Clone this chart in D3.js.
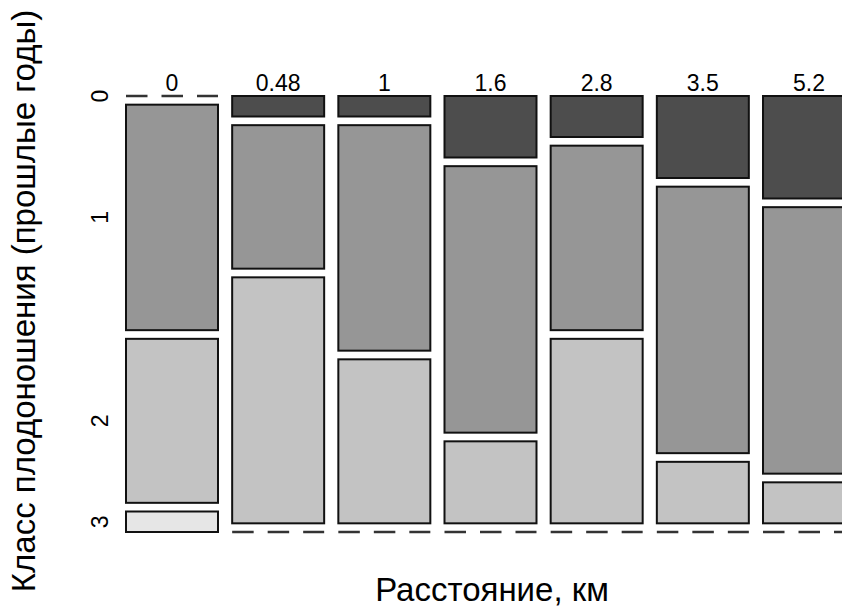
<!DOCTYPE html>
<html>
<head>
<meta charset="utf-8">
<script src="https://cdnjs.cloudflare.com/ajax/libs/d3/7.8.5/d3.min.js"></script>
<style>
  body { margin: 0; background: #fff; }
  text { font-family: "Liberation Sans", Arial, sans-serif; fill: #000; }
</style>
</head>
<body>
<div id="chart"></div>
<script>
// canvas size
const width = 842
const height = 609

// distance categories (km) and fruiting classes
const distances = ["0", "0.48", "1", "1.6", "2.8", "3.5", "5.2"]
const classes = ["0", "1", "2", "3"]

// counts per distance, one value per class 0..3
const counts0 = [0, 11, 8, 1]
const counts048 = [1, 7, 12, 0]
const counts1 = [1, 11, 8, 0]
const counts16 = [3, 13, 4, 0]
const counts28 = [2, 9, 9, 0]
const counts35 = [4, 13, 3, 0]
const counts52 = [5, 13, 2, 0]

const allCounts = [counts0, counts048, counts1, counts16, counts28, counts35, counts52]

const fills = ["#4d4d4d", "#969696", "#c3c3c3", "#e6e6e6"]

var svg = d3.select("#chart")
  .append("svg")
  .attr("width", width)
  .attr("height", height)

// plot area
const plotTop = 96, plotBottom = 532
const gap = 8.67

var x = d3.scaleBand()
  .domain(distances)
  .range([126, 855])
  .paddingInner(0.1335)
  .paddingOuter(0)

var total = d3.sum(counts0)
var avail = (plotBottom - plotTop) - gap * (classes.length - 1)
var h = d3.scaleLinear().domain([0, total]).range([0, avail])

// build the cells
var cells = []
distances.forEach(function(dist, i) {
  var cum = 0
  allCounts[i].forEach(function(c, k) {
    cells.push({ dist: dist, cls: k, n: c, y0: plotTop + h(cum) + k * gap })
    cum += c
  })
})

var g = svg.append("g")

g.selectAll("rect")
  .data(cells.filter(function(d) { return d.n > 0 }))
  .enter().append("rect")
    .attr("x", function(d) { return x(d.dist) })
    .attr("y", function(d) { return d.y0 })
    .attr("width", x.bandwidth())
    .attr("height", function(d) { return h(d.n) })
    .style("fill", function(d) { return fills[d.cls] })
    .style("stroke", "#111")
    .style("stroke-width", 2)

// empty cells get a dashed line
g.selectAll("line.zero")
  .data(cells.filter(function(d) { return d.n === 0 }))
  .enter().append("line")
    .attr("class", "zero")
    .attr("x1", function(d) { return x(d.dist) })
    .attr("x2", function(d) { return x(d.dist) + x.bandwidth() })
    .attr("y1", function(d) { return d.y0 })
    .attr("y2", function(d) { return d.y0 })
    .style("stroke", "#333")
    .style("stroke-width", 2.5)
    .style("stroke-dasharray", "21.5 14")

// column labels on top
svg.selectAll("text.col")
  .data(distances)
  .enter().append("text")
    .attr("class", "col")
    .attr("x", function(d) { return x(d) + x.bandwidth() / 2 })
    .attr("y", 91)
    .attr("text-anchor", "middle")
    .style("font-size", "23px")
    .text(function(d) { return d })

// row labels follow the first column
var firstCol = cells.filter(function(d) { return d.dist === distances[0] })
svg.selectAll("text.row")
  .data(firstCol)
  .enter().append("text")
    .attr("class", "row")
    .attr("transform", function(d) {
      return "translate(108," + (d.y0 + h(d.n) / 2) + ") rotate(-90)"
    })
    .attr("text-anchor", "middle")
    .style("font-size", "23px")
    .text(function(d) { return classes[d.cls] })

// axis titles
svg.append("text")
  .attr("x", 492)
  .attr("y", 601)
  .attr("text-anchor", "middle")
  .style("font-size", "33px")
  .text("Расстояние, км")

svg.append("text")
  .attr("transform", "translate(35,301) rotate(-90)")
  .attr("text-anchor", "middle")
  .style("font-size", "33px")
  .text("Класс плодоношения (прошлые годы)")
</script>
</body>
</html>
